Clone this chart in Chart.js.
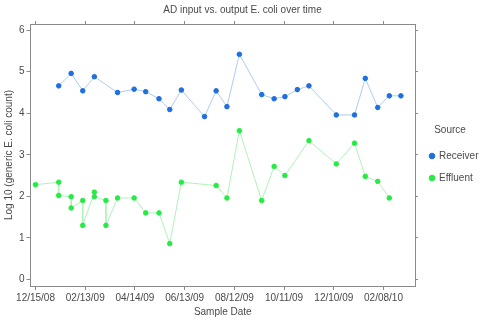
<!DOCTYPE html>
<html>
<head>
<meta charset="utf-8">
<script src="https://cdn.jsdelivr.net/npm/chart.js@4.4.1/dist/chart.umd.min.js"></script>
<style>
  html, body { margin: 0; padding: 0; background: #fff; }
  #wrap { width: 482px; height: 320px; }
</style>
</head>
<body>
<div id="wrap"><canvas id="chart"></canvas></div>
<script>
// Data (log10 counts)
const startDate = "2008-12-15";
const xTickLabels = ["12/15/08", "02/13/09", "04/14/09", "06/13/09", "08/12/09", "10/11/09", "12/10/09", "02/08/10"];
const yTickValues = [0, 1, 2, 3, 4, 5, 6];

const receiverDates = ["2009-01-12", "2009-01-27", "2009-02-10", "2009-02-24", "2009-03-24", "2009-04-13", "2009-04-27",
  "2009-05-13", "2009-05-26", "2009-06-09", "2009-07-07", "2009-07-21", "2009-08-03", "2009-08-18", "2009-09-14",
  "2009-09-29", "2009-10-12", "2009-10-27", "2009-11-10", "2009-12-13", "2010-01-04", "2010-01-17", "2010-02-01",
  "2010-02-15", "2010-03-01"];
const receiverValues = [4.66, 4.96, 4.54, 4.88, 4.50, 4.58, 4.52, 4.35, 4.09, 4.56, 3.92, 4.54, 4.16, 5.42, 4.45,
  4.35, 4.40, 4.57, 4.66, 3.96, 3.96, 4.84, 4.14, 4.42, 4.42];

const effluentDates = ["2008-12-15", "2009-01-12", "2009-01-12", "2009-01-27", "2009-01-27", "2009-02-10", "2009-02-10",
  "2009-02-24", "2009-02-24", "2009-03-10", "2009-03-10", "2009-03-24", "2009-04-13", "2009-04-27", "2009-05-13",
  "2009-05-26", "2009-06-09", "2009-07-21", "2009-08-03", "2009-08-18", "2009-09-14", "2009-09-29", "2009-10-12",
  "2009-11-10", "2009-12-13", "2010-01-04", "2010-01-17", "2010-02-01", "2010-02-15"];
const effluentValues = [2.28, 2.34, 2.02, 1.99, 1.72, 1.90, 1.30, 2.10, 1.99, 1.90, 1.30, 1.96, 1.96, 1.60, 1.60,
  0.86, 2.34, 2.26, 1.96, 3.58, 1.90, 2.72, 2.50, 3.34, 2.78, 3.28, 2.48, 2.36, 1.96];

const DAY = 86400000;
const t0 = Date.parse(startDate + "T00:00:00Z");

// days since start
function toDay(iso) {
    return Math.round((Date.parse(iso + "T00:00:00Z") - t0) / DAY);
}
function labelToDay(lbl) {
    const [m, d, y] = lbl.split("/");
    return toDay("20" + y + "-" + m + "-" + d);
}
function makePoints(dates, values) {
    return dates.map((d, i) => ({ x: toDay(d), y: values[i] }));
}

const xTickDays = xTickLabels.map(labelToDay);
const FONT = "'Liberation Sans', Arial, sans-serif";
const AXIS = "#8a8a8a";
const TEXT = "#4a4a4a";

function setXTicks(scale) { scale.ticks = xTickDays.map(v => ({ value: v })); }
function setYTicks(scale) { scale.ticks = yTickValues.map(v => ({ value: v })); }

const xRange = { min: -6, max: 458 };
const yRange = { min: -0.16, max: 6.15 };

new Chart(document.getElementById("chart"), {
    type: "line",
    data: {
        datasets: [
            {
                label: "Receiver",
                data: makePoints(receiverDates, receiverValues),
                borderColor: "#afcbf2",
                backgroundColor: "#1f6fdc",
                pointBackgroundColor: "#1f6fdc",
                pointBorderColor: "#1f6fdc",
                borderWidth: 1,
                pointRadius: 2.3,
                tension: 0
            },
            {
                label: "Effluent",
                data: makePoints(effluentDates, effluentValues),
                borderColor: "#b0f2b9",
                backgroundColor: "#27ea45",
                pointBackgroundColor: "#27ea45",
                pointBorderColor: "#27ea45",
                borderWidth: 1,
                pointRadius: 2.3,
                tension: 0
            }
        ]
    },
    options: {
        responsive: true,
        maintainAspectRatio: false,
        animation: false,
        layout: { padding: { left: 3, right: 0, top: 2, bottom: 2 } },
        plugins: {
            title: {
                display: true,
                text: "AD input vs. output E. coli over time",
                color: TEXT,
                font: { family: FONT, size: 10, weight: "normal" },
                padding: { top: 2, bottom: 5 }
            },
            legend: {
                position: "right",
                maxWidth: 64,
                title: { display: true, text: "Source", color: TEXT, font: { family: FONT, size: 10 }, padding: { top: 0, bottom: 2 } },
                labels: {
                    usePointStyle: true,
                    pointStyle: "circle",
                    boxWidth: 4,
                    boxHeight: 4,
                    padding: 12,
                    color: TEXT,
                    font: { family: FONT, size: 10 }
                }
            },
            tooltip: { enabled: false }
        },
        scales: {
            x: {
                type: "linear",
                position: "bottom",
                ...xRange,
                afterBuildTicks: setXTicks,
                grid: { drawOnChartArea: false, tickLength: 4, color: AXIS },
                border: { color: AXIS },
                ticks: {
                    color: TEXT,
                    font: { family: FONT, size: 10 },
                    padding: 2,
                    maxRotation: 0,
                    callback: (v) => xTickLabels[xTickDays.indexOf(v)] || ""
                },
                title: { display: true, text: "Sample Date", color: TEXT, font: { family: FONT, size: 10 }, padding: { top: 0, bottom: 0 } }
            },
            xTop: {
                type: "linear",
                position: "top",
                ...xRange,
                afterBuildTicks: setXTicks,
                grid: { drawOnChartArea: false, tickLength: 3, color: AXIS },
                border: { color: AXIS },
                ticks: { display: false }
            },
            y: {
                type: "linear",
                position: "left",
                ...yRange,
                afterBuildTicks: setYTicks,
                grid: { drawOnChartArea: false, tickLength: 4, color: AXIS },
                border: { color: AXIS },
                ticks: { color: TEXT, font: { family: FONT, size: 10 }, padding: 2 },
                title: { display: true, text: "Log 10 (generic E. coli count)", color: TEXT, font: { family: FONT, size: 10 }, padding: { top: 0, bottom: 2 } }
            },
            yRight: {
                type: "linear",
                position: "right",
                ...yRange,
                afterBuildTicks: setYTicks,
                grid: { drawOnChartArea: false, tickLength: 3, color: AXIS },
                border: { color: AXIS },
                ticks: { display: false }
            }
        }
    }
});
</script>
</body>
</html>
